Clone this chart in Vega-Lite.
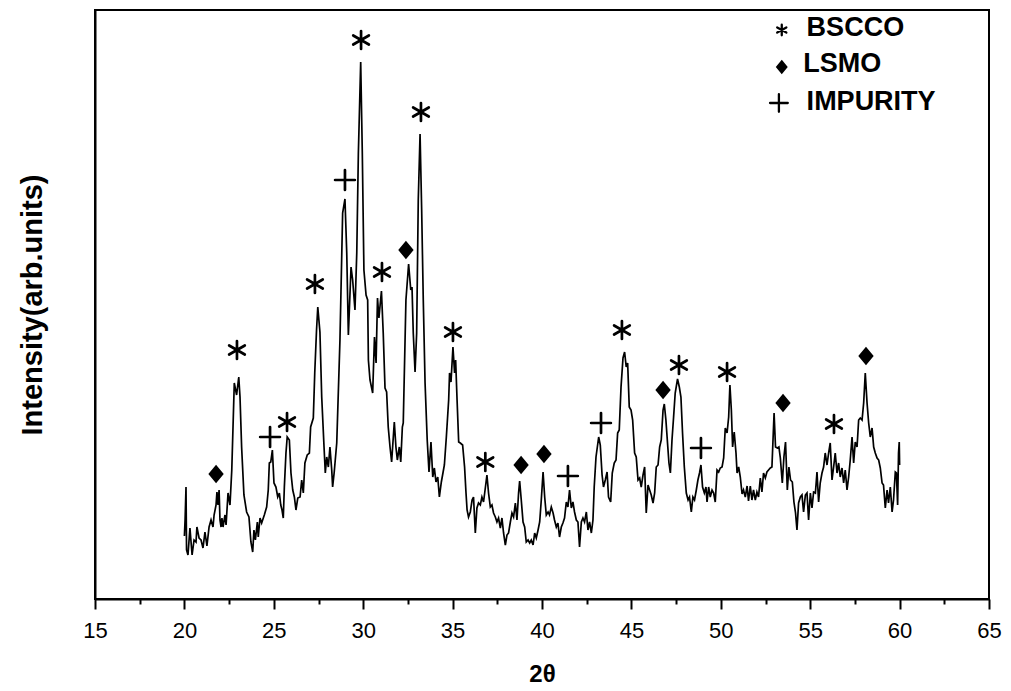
{
"$schema": "https://vega.github.io/schema/vega-lite/v6.json",
"width": 894,
"height": 589,
"autosize": {"type": "none"},
"padding": {"left": 95, "top": 10, "right": 22, "bottom": 92},
"background": "white",
"config": {"view": {"stroke": "black", "strokeWidth": 2}, "font": "Liberation Sans"},
"datasets": {
"xrd": [
{"angle":20.0,"intensity":63},{"angle":20.04,"intensity":80},{"angle":20.09,"intensity":112},{"angle":20.12,"intensity":49},{"angle":20.2,"intensity":44},{"angle":20.31,"intensity":71},{"angle":20.43,"intensity":44},{"angle":20.54,"intensity":59},{"angle":20.65,"intensity":57},{"angle":20.7,"intensity":72},{"angle":20.82,"intensity":61},{"angle":20.93,"intensity":59},{"angle":21.04,"intensity":51},{"angle":21.15,"intensity":67},{"angle":21.26,"intensity":53},{"angle":21.38,"intensity":72},{"angle":21.49,"intensity":79},{"angle":21.6,"intensity":72},{"angle":21.66,"intensity":84},{"angle":21.77,"intensity":94},{"angle":21.82,"intensity":107},{"angle":21.88,"intensity":94},{"angle":21.94,"intensity":109},{"angle":21.99,"intensity":79},{"angle":22.05,"intensity":72},{"angle":22.1,"intensity":81},{"angle":22.16,"intensity":72},{"angle":22.27,"intensity":84},{"angle":22.33,"intensity":74},{"angle":22.44,"intensity":106},{"angle":22.55,"intensity":94},{"angle":22.65,"intensity":129},{"angle":22.79,"intensity":216},{"angle":22.92,"intensity":204},{"angle":23.04,"intensity":222},{"angle":23.11,"intensity":202},{"angle":23.2,"intensity":152},{"angle":23.33,"intensity":104},{"angle":23.48,"intensity":87},{"angle":23.61,"intensity":82},{"angle":23.72,"intensity":57},{"angle":23.82,"intensity":47},{"angle":23.89,"intensity":69},{"angle":23.97,"intensity":59},{"angle":24.08,"intensity":77},{"angle":24.13,"intensity":62},{"angle":24.23,"intensity":81},{"angle":24.32,"intensity":76},{"angle":24.47,"intensity":84},{"angle":24.6,"intensity":92},{"angle":24.69,"intensity":109},{"angle":24.75,"intensity":136},{"angle":24.83,"intensity":137},{"angle":24.92,"intensity":149},{"angle":25.01,"intensity":116},{"angle":25.12,"intensity":112},{"angle":25.22,"intensity":102},{"angle":25.31,"intensity":106},{"angle":25.39,"intensity":94},{"angle":25.46,"intensity":89},{"angle":25.53,"intensity":81},{"angle":25.59,"intensity":112},{"angle":25.68,"intensity":146},{"angle":25.75,"intensity":162},{"angle":25.87,"intensity":159},{"angle":25.96,"intensity":126},{"angle":26.06,"intensity":109},{"angle":26.15,"intensity":102},{"angle":26.24,"intensity":89},{"angle":26.34,"intensity":101},{"angle":26.47,"intensity":102},{"angle":26.56,"intensity":119},{"angle":26.65,"intensity":106},{"angle":26.74,"intensity":136},{"angle":26.87,"intensity":144},{"angle":26.99,"intensity":146},{"angle":27.06,"intensity":172},{"angle":27.21,"intensity":181},{"angle":27.29,"intensity":226},{"angle":27.39,"intensity":269},{"angle":27.46,"intensity":292},{"angle":27.58,"intensity":267},{"angle":27.68,"intensity":202},{"angle":27.81,"intensity":152},{"angle":27.88,"intensity":126},{"angle":27.96,"intensity":142},{"angle":28.05,"intensity":132},{"angle":28.14,"intensity":152},{"angle":28.24,"intensity":129},{"angle":28.29,"intensity":112},{"angle":28.38,"intensity":127},{"angle":28.52,"intensity":156},{"angle":28.7,"intensity":259},{"angle":28.85,"intensity":386},{"angle":28.98,"intensity":400},{"angle":29.08,"intensity":346},{"angle":29.17,"intensity":264},{"angle":29.32,"intensity":332},{"angle":29.41,"intensity":319},{"angle":29.54,"intensity":289},{"angle":29.64,"intensity":346},{"angle":29.73,"intensity":446},{"angle":29.86,"intensity":537},{"angle":29.95,"intensity":446},{"angle":30.04,"intensity":329},{"angle":30.16,"intensity":304},{"angle":30.25,"intensity":299},{"angle":30.29,"intensity":239},{"angle":30.38,"intensity":219},{"angle":30.53,"intensity":206},{"angle":30.63,"intensity":262},{"angle":30.72,"intensity":236},{"angle":30.8,"intensity":301},{"angle":30.88,"intensity":281},{"angle":31.02,"intensity":308},{"angle":31.12,"intensity":266},{"angle":31.22,"intensity":211},{"angle":31.31,"intensity":207},{"angle":31.4,"intensity":172},{"angle":31.5,"intensity":152},{"angle":31.59,"intensity":137},{"angle":31.74,"intensity":177},{"angle":31.83,"intensity":152},{"angle":31.91,"intensity":139},{"angle":32.02,"intensity":152},{"angle":32.1,"intensity":137},{"angle":32.19,"intensity":172},{"angle":32.24,"intensity":176},{"angle":32.39,"intensity":299},{"angle":32.54,"intensity":335},{"angle":32.66,"intensity":309},{"angle":32.73,"intensity":312},{"angle":32.8,"intensity":266},{"angle":32.9,"intensity":227},{"angle":32.99,"intensity":266},{"angle":33.08,"intensity":399},{"angle":33.18,"intensity":465},{"angle":33.27,"intensity":389},{"angle":33.36,"intensity":299},{"angle":33.46,"intensity":216},{"angle":33.58,"intensity":159},{"angle":33.68,"intensity":127},{"angle":33.79,"intensity":157},{"angle":33.89,"intensity":122},{"angle":33.98,"intensity":131},{"angle":34.07,"intensity":117},{"angle":34.17,"intensity":122},{"angle":34.26,"intensity":102},{"angle":34.37,"intensity":117},{"angle":34.46,"intensity":126},{"angle":34.54,"intensity":134},{"angle":34.65,"intensity":162},{"angle":34.78,"intensity":199},{"angle":34.83,"intensity":226},{"angle":34.91,"intensity":217},{"angle":35.02,"intensity":252},{"angle":35.11,"intensity":226},{"angle":35.17,"intensity":239},{"angle":35.25,"intensity":199},{"angle":35.34,"intensity":157},{"angle":35.43,"intensity":156},{"angle":35.56,"intensity":154},{"angle":35.67,"intensity":132},{"angle":35.75,"intensity":106},{"angle":35.81,"intensity":89},{"angle":35.89,"intensity":82},{"angle":35.99,"intensity":87},{"angle":36.09,"intensity":99},{"angle":36.17,"intensity":102},{"angle":36.27,"intensity":66},{"angle":36.36,"intensity":91},{"angle":36.45,"intensity":96},{"angle":36.55,"intensity":94},{"angle":36.64,"intensity":102},{"angle":36.73,"intensity":97},{"angle":36.83,"intensity":111},{"angle":36.92,"intensity":124},{"angle":37.01,"intensity":106},{"angle":37.11,"intensity":92},{"angle":37.2,"intensity":94},{"angle":37.29,"intensity":86},{"angle":37.39,"intensity":82},{"angle":37.48,"intensity":77},{"angle":37.57,"intensity":81},{"angle":37.67,"intensity":71},{"angle":37.76,"intensity":81},{"angle":37.85,"intensity":66},{"angle":37.95,"intensity":54},{"angle":38.04,"intensity":64},{"angle":38.13,"intensity":66},{"angle":38.23,"intensity":77},{"angle":38.32,"intensity":86},{"angle":38.41,"intensity":82},{"angle":38.51,"intensity":96},{"angle":38.6,"intensity":79},{"angle":38.69,"intensity":106},{"angle":38.75,"intensity":118},{"angle":38.84,"intensity":99},{"angle":38.94,"intensity":77},{"angle":39.03,"intensity":72},{"angle":39.12,"intensity":57},{"angle":39.22,"intensity":59},{"angle":39.31,"intensity":56},{"angle":39.4,"intensity":59},{"angle":39.5,"intensity":54},{"angle":39.59,"intensity":66},{"angle":39.68,"intensity":61},{"angle":39.78,"intensity":69},{"angle":39.87,"intensity":77},{"angle":39.96,"intensity":99},{"angle":40.06,"intensity":127},{"angle":40.15,"intensity":102},{"angle":40.24,"intensity":84},{"angle":40.34,"intensity":87},{"angle":40.42,"intensity":84},{"angle":40.52,"intensity":92},{"angle":40.62,"intensity":86},{"angle":40.7,"intensity":79},{"angle":40.8,"intensity":72},{"angle":40.89,"intensity":76},{"angle":40.98,"intensity":62},{"angle":41.08,"intensity":72},{"angle":41.17,"intensity":76},{"angle":41.26,"intensity":81},{"angle":41.36,"intensity":97},{"angle":41.45,"intensity":92},{"angle":41.54,"intensity":109},{"angle":41.64,"intensity":91},{"angle":41.73,"intensity":97},{"angle":41.82,"intensity":87},{"angle":41.92,"intensity":79},{"angle":42.01,"intensity":77},{"angle":42.1,"intensity":52},{"angle":42.2,"intensity":77},{"angle":42.29,"intensity":81},{"angle":42.38,"intensity":77},{"angle":42.48,"intensity":87},{"angle":42.57,"intensity":69},{"angle":42.66,"intensity":77},{"angle":42.76,"intensity":66},{"angle":42.85,"intensity":79},{"angle":42.92,"intensity":112},{"angle":43.02,"intensity":142},{"angle":43.17,"intensity":162},{"angle":43.26,"intensity":154},{"angle":43.36,"intensity":124},{"angle":43.44,"intensity":112},{"angle":43.54,"intensity":119},{"angle":43.64,"intensity":127},{"angle":43.72,"intensity":102},{"angle":43.84,"intensity":97},{"angle":43.93,"intensity":126},{"angle":44.04,"intensity":136},{"angle":44.14,"intensity":139},{"angle":44.23,"intensity":166},{"angle":44.32,"intensity":169},{"angle":44.42,"intensity":212},{"angle":44.53,"intensity":241},{"angle":44.62,"intensity":247},{"angle":44.71,"intensity":232},{"angle":44.79,"intensity":236},{"angle":44.88,"intensity":192},{"angle":44.98,"intensity":189},{"angle":45.07,"intensity":179},{"angle":45.18,"intensity":146},{"angle":45.27,"intensity":142},{"angle":45.37,"intensity":119},{"angle":45.46,"intensity":121},{"angle":45.55,"intensity":112},{"angle":45.65,"intensity":124},{"angle":45.74,"intensity":132},{"angle":45.83,"intensity":86},{"angle":45.93,"intensity":114},{"angle":46.02,"intensity":109},{"angle":46.11,"intensity":104},{"angle":46.21,"intensity":96},{"angle":46.3,"intensity":106},{"angle":46.39,"intensity":132},{"angle":46.49,"intensity":134},{"angle":46.58,"intensity":152},{"angle":46.67,"intensity":159},{"angle":46.77,"intensity":189},{"angle":46.84,"intensity":195},{"angle":46.93,"intensity":179},{"angle":47.02,"intensity":156},{"angle":47.1,"intensity":136},{"angle":47.18,"intensity":126},{"angle":47.27,"intensity":159},{"angle":47.36,"intensity":182},{"angle":47.45,"intensity":206},{"angle":47.58,"intensity":220},{"angle":47.68,"intensity":212},{"angle":47.77,"intensity":202},{"angle":47.86,"intensity":166},{"angle":47.96,"intensity":132},{"angle":48.07,"intensity":106},{"angle":48.17,"intensity":99},{"angle":48.25,"intensity":102},{"angle":48.35,"intensity":87},{"angle":48.44,"intensity":102},{"angle":48.53,"intensity":99},{"angle":48.63,"intensity":109},{"angle":48.72,"intensity":119},{"angle":48.81,"intensity":126},{"angle":48.89,"intensity":134},{"angle":48.98,"intensity":112},{"angle":49.08,"intensity":106},{"angle":49.17,"intensity":112},{"angle":49.23,"intensity":97},{"angle":49.32,"intensity":112},{"angle":49.41,"intensity":102},{"angle":49.51,"intensity":109},{"angle":49.6,"intensity":106},{"angle":49.69,"intensity":97},{"angle":49.79,"intensity":129},{"angle":49.88,"intensity":127},{"angle":49.97,"intensity":131},{"angle":50.07,"intensity":132},{"angle":50.16,"intensity":141},{"angle":50.25,"intensity":171},{"angle":50.35,"intensity":166},{"angle":50.44,"intensity":182},{"angle":50.51,"intensity":214},{"angle":50.59,"intensity":189},{"angle":50.66,"intensity":152},{"angle":50.75,"intensity":167},{"angle":50.85,"intensity":146},{"angle":50.91,"intensity":126},{"angle":51.0,"intensity":132},{"angle":51.09,"intensity":122},{"angle":51.19,"intensity":105},{"angle":51.27,"intensity":109},{"angle":51.37,"intensity":102},{"angle":51.47,"intensity":113},{"angle":51.55,"intensity":98},{"angle":51.65,"intensity":113},{"angle":51.74,"intensity":99},{"angle":51.83,"intensity":109},{"angle":51.93,"intensity":99},{"angle":52.02,"intensity":107},{"angle":52.11,"intensity":102},{"angle":52.21,"intensity":121},{"angle":52.3,"intensity":107},{"angle":52.39,"intensity":126},{"angle":52.49,"intensity":121},{"angle":52.58,"intensity":127},{"angle":52.67,"intensity":129},{"angle":52.77,"intensity":131},{"angle":52.86,"intensity":132},{"angle":52.98,"intensity":186},{"angle":53.06,"intensity":152},{"angle":53.16,"intensity":151},{"angle":53.25,"intensity":152},{"angle":53.33,"intensity":141},{"angle":53.44,"intensity":116},{"angle":53.53,"intensity":142},{"angle":53.62,"intensity":157},{"angle":53.72,"intensity":109},{"angle":53.81,"intensity":132},{"angle":53.9,"intensity":119},{"angle":54.0,"intensity":117},{"angle":54.09,"intensity":97},{"angle":54.18,"intensity":86},{"angle":54.26,"intensity":69},{"angle":54.35,"intensity":96},{"angle":54.45,"intensity":102},{"angle":54.54,"intensity":104},{"angle":54.63,"intensity":87},{"angle":54.73,"intensity":104},{"angle":54.82,"intensity":106},{"angle":54.91,"intensity":79},{"angle":55.01,"intensity":106},{"angle":55.1,"intensity":91},{"angle":55.19,"intensity":107},{"angle":55.29,"intensity":106},{"angle":55.38,"intensity":127},{"angle":55.47,"intensity":97},{"angle":55.56,"intensity":116},{"angle":55.66,"intensity":126},{"angle":55.75,"intensity":132},{"angle":55.84,"intensity":146},{"angle":55.94,"intensity":134},{"angle":56.03,"intensity":146},{"angle":56.12,"intensity":156},{"angle":56.22,"intensity":119},{"angle":56.31,"intensity":132},{"angle":56.4,"intensity":146},{"angle":56.5,"intensity":126},{"angle":56.59,"intensity":136},{"angle":56.68,"intensity":122},{"angle":56.78,"intensity":131},{"angle":56.87,"intensity":116},{"angle":56.96,"intensity":129},{"angle":57.06,"intensity":109},{"angle":57.15,"intensity":122},{"angle":57.24,"intensity":139},{"angle":57.34,"intensity":162},{"angle":57.43,"intensity":136},{"angle":57.52,"intensity":157},{"angle":57.62,"intensity":152},{"angle":57.71,"intensity":179},{"angle":57.8,"intensity":181},{"angle":57.9,"intensity":179},{"angle":57.99,"intensity":196},{"angle":58.08,"intensity":226},{"angle":58.18,"intensity":196},{"angle":58.27,"intensity":176},{"angle":58.36,"intensity":162},{"angle":58.46,"intensity":171},{"angle":58.55,"intensity":152},{"angle":58.64,"intensity":146},{"angle":58.74,"intensity":141},{"angle":58.83,"intensity":139},{"angle":58.92,"intensity":131},{"angle":59.02,"intensity":116},{"angle":59.1,"intensity":114},{"angle":59.2,"intensity":91},{"angle":59.3,"intensity":109},{"angle":59.38,"intensity":96},{"angle":59.48,"intensity":112},{"angle":59.58,"intensity":87},{"angle":59.66,"intensity":99},{"angle":59.76,"intensity":127},{"angle":59.82,"intensity":126},{"angle":59.89,"intensity":94},{"angle":59.94,"intensity":146},{"angle":59.98,"intensity":157},{"angle":60.0,"intensity":134}
],
"peaks": [
{"angle":21.77,"intensity":125,"phase":"LSMO"},
{"angle":22.94,"intensity":249,"phase":"BSCCO"},
{"angle":24.79,"intensity":162,"phase":"IMPURITY"},
{"angle":25.74,"intensity":177,"phase":"BSCCO"},
{"angle":27.30,"intensity":315,"phase":"BSCCO"},
{"angle":28.98,"intensity":419,"phase":"IMPURITY"},
{"angle":29.88,"intensity":559,"phase":"BSCCO"},
{"angle":31.05,"intensity":327,"phase":"BSCCO"},
{"angle":32.39,"intensity":349,"phase":"LSMO"},
{"angle":33.23,"intensity":487,"phase":"BSCCO"},
{"angle":35.02,"intensity":267,"phase":"BSCCO"},
{"angle":36.83,"intensity":137,"phase":"BSCCO"},
{"angle":38.83,"intensity":134,"phase":"LSMO"},
{"angle":40.11,"intensity":145,"phase":"LSMO"},
{"angle":41.45,"intensity":123,"phase":"IMPURITY"},
{"angle":43.30,"intensity":176,"phase":"IMPURITY"},
{"angle":44.47,"intensity":269,"phase":"BSCCO"},
{"angle":46.77,"intensity":209,"phase":"LSMO"},
{"angle":47.66,"intensity":234,"phase":"BSCCO"},
{"angle":48.89,"intensity":151,"phase":"IMPURITY"},
{"angle":50.35,"intensity":227,"phase":"BSCCO"},
{"angle":53.48,"intensity":196,"phase":"LSMO"},
{"angle":56.33,"intensity":175,"phase":"BSCCO"},
{"angle":58.12,"intensity":243,"phase":"LSMO"}
],
"key": [
{"angle":53.41,"intensity":569,"phase":"BSCCO","label_angle":54.80,"label_intensity":571},
{"angle":53.41,"intensity":532,"phase":"LSMO","label_angle":54.61,"label_intensity":535},
{"angle":53.25,"intensity":496,"phase":"IMPURITY","label_angle":54.80,"label_intensity":497}
]
},
"layer": [
{
"data": {"name": "xrd"},
"mark": {"type": "line", "color": "black", "strokeWidth": 1.7},
"encoding": {
"x": {"field": "angle", "type": "quantitative", "scale": {"domain": [15, 65], "nice": false, "zero": false},
 "axis": {"values": [15,17.5,20,22.5,25,27.5,30,32.5,35,37.5,40,42.5,45,47.5,50,52.5,55,57.5,60,62.5,65],
  "labelExpr": "datum.value % 5 === 0 ? datum.label : ''",
  "tickSize": {"condition": {"test": "datum.value % 5 === 0", "value": 10}, "value": 5},
  "tickColor": "black", "tickWidth": 2, "domainColor": "black", "domainWidth": 2,
  "labelFontSize": 22, "labelColor": "black", "labelPadding": 11, "labelOverlap": false, "labelFlush": false,
  "grid": false, "title": "2θ", "titleFontSize": 24, "titleFontWeight": "bold", "titleColor": "black", "titlePadding": 21}},
"y": {"field": "intensity", "type": "quantitative", "scale": {"domain": [0, 589], "nice": false},
 "axis": {"labels": false, "ticks": false, "grid": false, "domainColor": "black", "domainWidth": 2,
  "title": "Intensity(arb.units)", "titleFontSize": 29, "titleFontWeight": "bold", "titleColor": "black", "titlePadding": 48}}
}
},
{
"data": {"name": "peaks"},
"mark": {"type": "point", "filled": true, "fill": "black", "stroke": "black", "strokeWidth": 2.7, "strokeCap": "round", "size": 324, "opacity": 1},
"encoding": {
"x": {"field": "angle", "type": "quantitative"},
"y": {"field": "intensity", "type": "quantitative"},
"shape": {"field": "phase", "type": "nominal",
 "scale": {"domain": ["BSCCO", "LSMO", "IMPURITY"],
  "range": ["M0,-1L0,1M-0.87,-0.5L0.87,0.5M-0.87,0.5L0.87,-0.5", "M0,-0.8L0.66,0L0,0.8L-0.66,0Z", "M-1.1,0L1.1,0M0,-1.1L0,1.1"]},
 "legend": null}
}
},
{
"data": {"name": "key"},
"mark": {"type": "point", "filled": true, "fill": "black", "stroke": "black", "strokeWidth": 2.3, "strokeCap": "round", "opacity": 1},
"encoding": {
"x": {"field": "angle", "type": "quantitative"},
"y": {"field": "intensity", "type": "quantitative"},
"shape": {"field": "phase", "type": "nominal", "legend": null},
"size": {"field": "phase", "type": "nominal", "scale": {"domain": ["BSCCO", "LSMO", "IMPURITY"], "range": [110, 260, 190]}, "legend": null}
}
},
{
"data": {"name": "key"},
"mark": {"type": "text", "align": "left", "baseline": "middle", "fontSize": 27, "fontWeight": "bold", "font": "Liberation Sans", "color": "black"},
"encoding": {
"x": {"field": "label_angle", "type": "quantitative"},
"y": {"field": "label_intensity", "type": "quantitative"},
"text": {"field": "phase"}
}
}
]
}
